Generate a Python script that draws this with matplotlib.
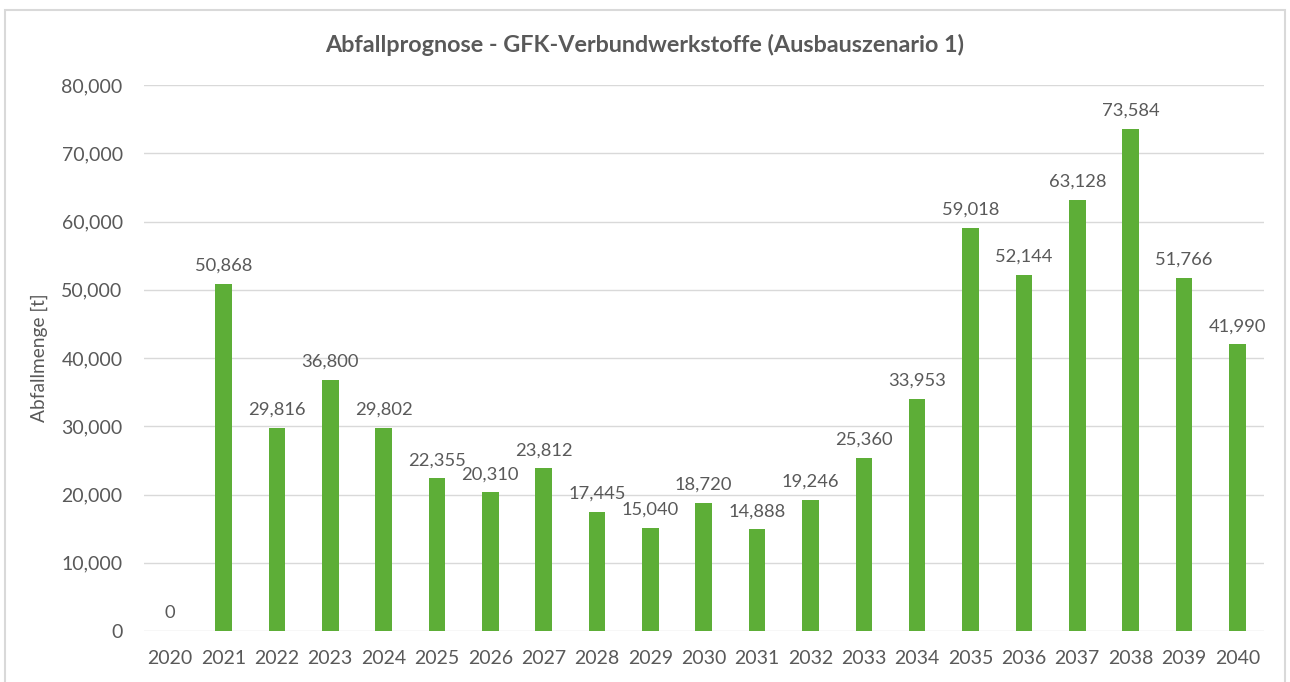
import matplotlib.pyplot as plt
from matplotlib.patches import Rectangle
from matplotlib.ticker import FuncFormatter

years = [str(y) for y in range(2020, 2041)]
waste = [0, 50868, 29816, 36800, 29802, 22355, 20310, 23812, 17445, 15040,
         18720, 14888, 19246, 25360, 33953, 59018, 52144, 63128, 73584, 51766, 41990]

W, H = 1290, 682
plt.rcParams['font.family'] = ['Lato', 'DejaVu Sans']
text_col = '#595959'

fig = plt.figure(figsize=(W / 100, H / 100), dpi=100)
ax = fig.add_axes([143.5 / W, 1 - 631 / H, (1264 - 143.5) / W, (631 - 85) / H])

x = range(len(years))
bars = ax.bar(x, waste, width=0.31, color='#5DAE37', zorder=3)
for xi, v in zip(x, waste):
    ax.text(xi, v + 1500, f"{v:,}", ha='center', va='bottom', fontsize=13.2, color=text_col)

ax.set_xlim(-0.5, len(years) - 0.5)
ax.set_ylim(0, 80000)
ax.set_yticks(range(0, 80001, 10000))
ax.yaxis.set_major_formatter(FuncFormatter(lambda v, p: f"{int(v):,}"))
ax.set_xticks(list(x))
ax.set_xticklabels(years)
ax.grid(axis='y', color='#d9d9d9', linewidth=1, zorder=0)
for s in ax.spines.values():
    s.set_visible(False)
ax.tick_params(length=0, labelsize=14, colors=text_col)
ax.tick_params(axis='x', pad=14)
ax.tick_params(axis='y', pad=15)
ax.set_ylabel('Abfallmenge [t]', fontsize=13.8, color=text_col, labelpad=10)

fig.text(0.5, 1 - 45 / H, 'Abfallprognose - GFK-Verbundwerkstoffe (Ausbauszenario 1)',
         ha='center', va='center', fontsize=16.8, fontweight='bold', color=text_col)

fig.patches.append(Rectangle((5 / W, -0.05), 1280 / W, 1 - 10 / H + 0.05,
                             transform=fig.transFigure, fill=False,
                             edgecolor='#d9d9d9', linewidth=1.5))

fig.savefig('out.png', dpi=100, facecolor='white')
